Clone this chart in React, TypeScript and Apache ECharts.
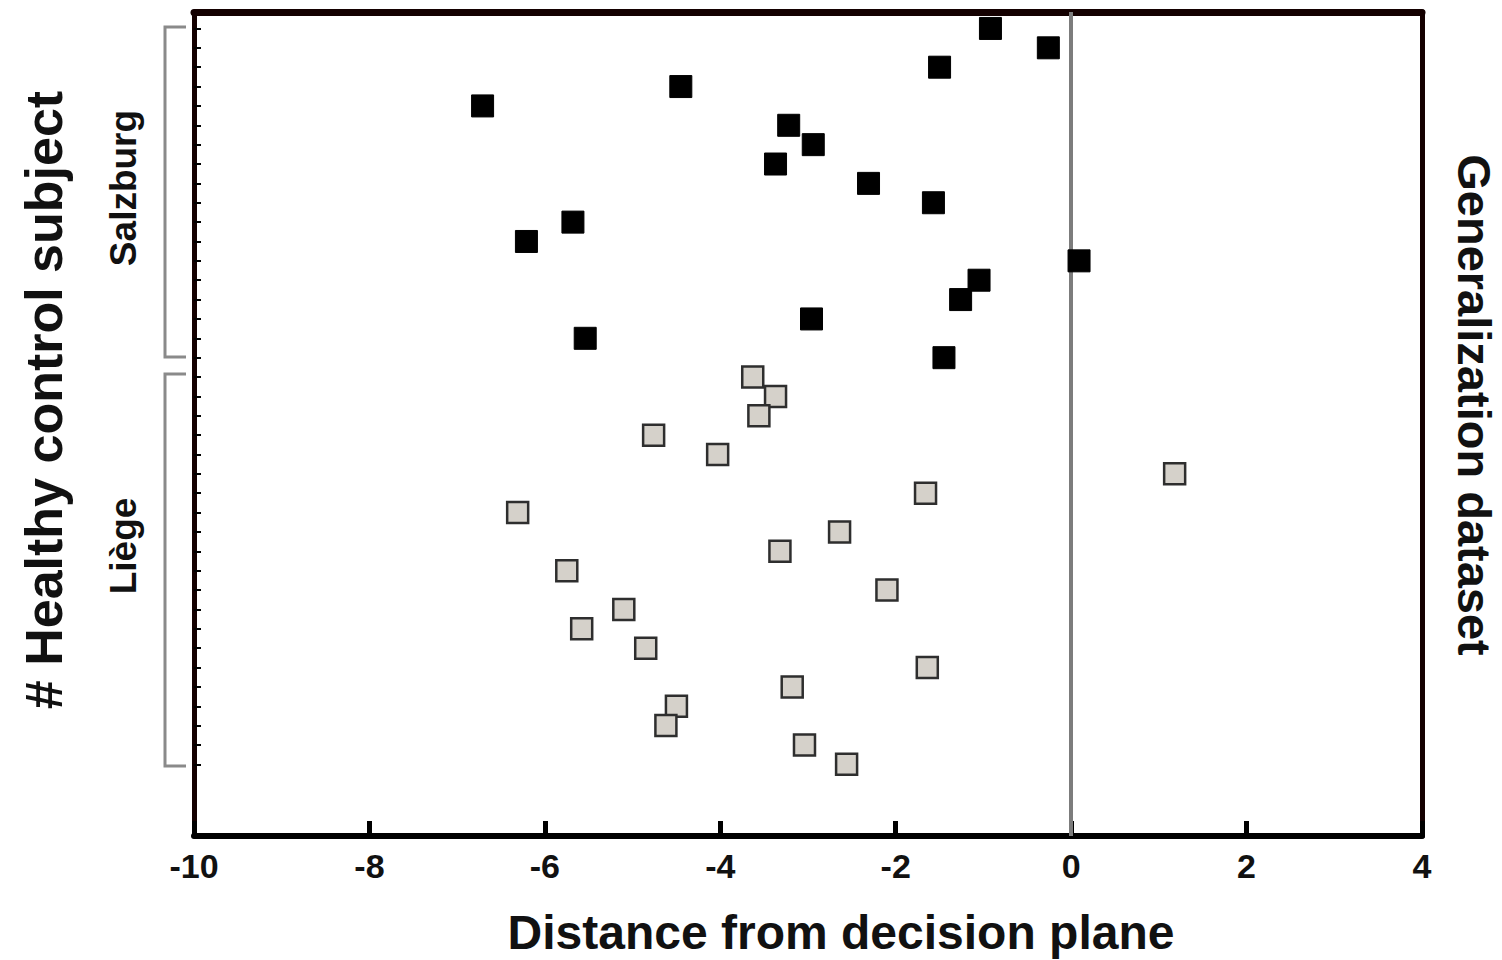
import React, { useEffect, useRef } from "react";
import * as echarts from "echarts";

// Subject indices (1 = top row)
const salzburgSubjects = [1, 2, 3, 4, 5, 6, 7, 8, 9, 10, 11, 12, 13, 14, 15, 16, 17, 18];
const salzburgDistances = [
  -0.92, -0.26, -1.5, -4.45, -6.71, -3.22, -2.94, -3.37, -2.31, -1.57, -5.68, -6.21, 0.09,
  -1.05, -1.26, -2.96, -5.54, -1.45,
];
const liegeSubjects = [19, 20, 21, 22, 23, 24, 25, 26, 27, 28, 29, 30, 31, 32, 33, 34, 35, 36, 37, 38, 39];
const liegeDistances = [
  -3.63, -3.37, -3.56, -4.76, -4.03, 1.18, -1.66, -6.31, -2.64, -3.32, -5.75, -2.1, -5.1,
  -5.58, -4.85, -1.64, -3.18, -4.5, -4.62, -3.04, -2.56,
];
const allSubjects = [...salzburgSubjects, ...liegeSubjects];
const xTicks = { min: -10, max: 4, interval: 2 };
const yRange = { min: 0.15, max: 42.7 };

const FONT = "'Liberation Sans', Arial, Helvetica, sans-serif";
const AXIS_COLOR = "#140000";

export default function App() {
  const ref = useRef<HTMLDivElement>(null);

  useEffect(() => {
    if (!ref.current) return;
    const chart = echarts.init(ref.current, undefined, { renderer: "svg" });

    const salzData = salzburgSubjects.map((s, i) => [salzburgDistances[i], s]);
    const liegeData = liegeSubjects.map((s, i) => [liegeDistances[i], s]);

    const option: any = {
      animation: false,
      backgroundColor: "#ffffff",
      grid: { left: 194, right: 80, top: 12, bottom: 124, containLabel: false },
      xAxis: [
        {
          type: "value",
          position: "bottom",
          min: xTicks.min,
          max: xTicks.max,
          interval: xTicks.interval,
          splitLine: { show: false },
          axisLine: { show: true, onZero: false, lineStyle: { color: "#000", width: 6 } },
          axisTick: { show: true, inside: true, length: 15, lineStyle: { color: "#000", width: 5 } },
          axisLabel: {
            show: true,
            margin: 13,
            fontFamily: FONT,
            fontWeight: "bold",
            fontSize: 34,
            color: "#111",
          },
        },
        {
          type: "value",
          position: "top",
          min: xTicks.min,
          max: xTicks.max,
          splitLine: { show: false },
          axisLine: { show: true, onZero: false, lineStyle: { color: AXIS_COLOR, width: 7 } },
          axisTick: { show: false },
          axisLabel: { show: false },
        },
      ],
      yAxis: [
        {
          type: "value",
          position: "left",
          inverse: true,
          min: yRange.min,
          max: yRange.max,
          splitLine: { show: false },
          axisLine: { show: true, onZero: false, lineStyle: { color: AXIS_COLOR, width: 5 } },
          axisTick: {
            show: true,
            inside: true,
            length: 7,
            customValues: allSubjects,
            lineStyle: { color: "#000", width: 2 },
          },
          axisLabel: { show: false },
        },
        {
          type: "value",
          position: "right",
          inverse: true,
          min: yRange.min,
          max: yRange.max,
          splitLine: { show: false },
          axisLine: { show: true, onZero: false, lineStyle: { color: AXIS_COLOR, width: 5 } },
          axisTick: { show: false },
          axisLabel: { show: false },
        },
      ],
      series: [
        {
          name: "Salzburg",
          type: "scatter",
          xAxisIndex: 0,
          yAxisIndex: 0,
          symbol: "rect",
          symbolSize: 22,
          data: salzData,
          itemStyle: { color: "#000", borderColor: "#000", borderWidth: 1, opacity: 1 },
          z: 5,
          markLine: {
            silent: true,
            symbol: "none",
            label: { show: false },
            lineStyle: { color: "#7c7c7c", width: 4, type: "solid", opacity: 1 },
            data: [{ xAxis: 0 }],
            z: 3,
          },
        },
        {
          name: "Liège",
          type: "scatter",
          xAxisIndex: 0,
          yAxisIndex: 0,
          symbol: "rect",
          symbolSize: 21,
          data: liegeData,
          itemStyle: { color: "#d5d1ca", borderColor: "#2e2e2e", borderWidth: 2.5, opacity: 1 },
          z: 5,
        },
      ],
      graphic: [
        {
          type: "polyline",
          shape: { points: [[186, 27], [165, 27], [165, 357], [186, 357]] },
          style: { stroke: "#8a8a8a", lineWidth: 3, fill: null },
        },
        {
          type: "polyline",
          shape: { points: [[186, 374], [165, 374], [165, 766], [186, 766]] },
          style: { stroke: "#8a8a8a", lineWidth: 3, fill: null },
        },
        {
          type: "text",
          x: 123,
          y: 188,
          rotation: Math.PI / 2,
          style: {
            text: "Salzburg",
            font: `bold 37px ${FONT}`,
            fill: "#111",
            align: "center",
            verticalAlign: "middle",
          },
        },
        {
          type: "text",
          x: 123,
          y: 546,
          rotation: Math.PI / 2,
          style: {
            text: "Liège",
            font: `bold 37px ${FONT}`,
            fill: "#111",
            align: "center",
            verticalAlign: "middle",
          },
        },
        {
          type: "text",
          x: 44,
          y: 400,
          rotation: Math.PI / 2,
          style: {
            text: "# Healthy control subject",
            font: `bold 52px ${FONT}`,
            fill: "#111",
            align: "center",
            verticalAlign: "middle",
          },
        },
        {
          type: "text",
          x: 1474,
          y: 405,
          rotation: -Math.PI / 2,
          style: {
            text: "Generalization dataset",
            font: `bold 47px ${FONT}`,
            fill: "#111",
            align: "center",
            verticalAlign: "middle",
          },
        },
        {
          type: "text",
          x: 841,
          y: 932,
          style: {
            text: "Distance from decision plane",
            font: `bold 48px ${FONT}`,
            fill: "#111",
            align: "center",
            verticalAlign: "middle",
          },
        },
      ],
    };

    chart.setOption(option);
    return () => chart.dispose();
  }, []);

  return (
    <div
      ref={ref}
      style={{ position: "fixed", left: 0, top: 0, width: 1502, height: 960, background: "#fff" }}
    />
  );
}
